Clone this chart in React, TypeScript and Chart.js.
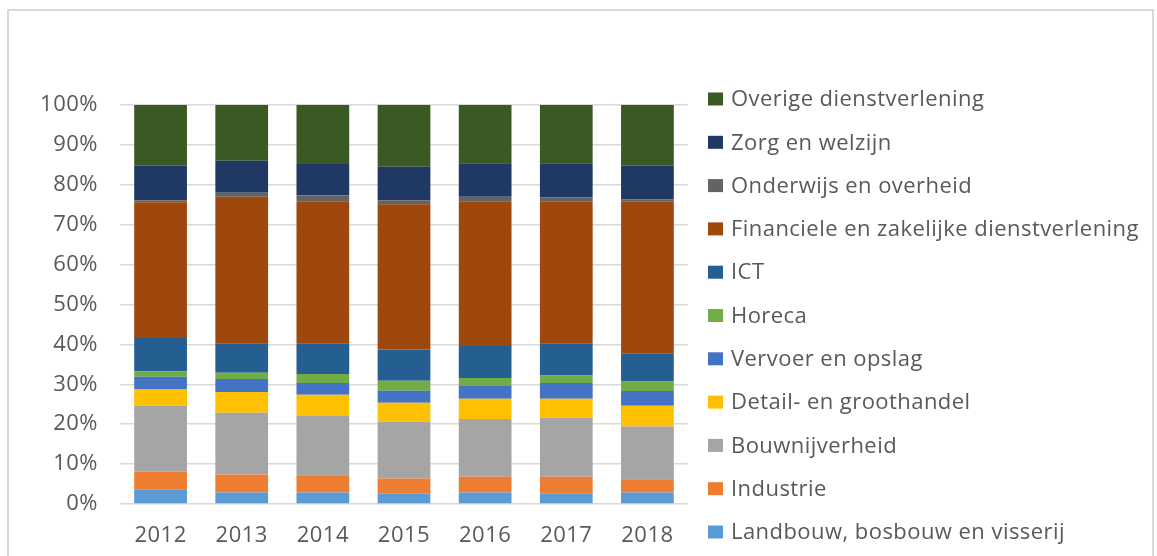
import React, { useEffect, useRef } from "react";
import { Chart, registerables } from "chart.js";

Chart.register(...registerables);

const years = ["2012", "2013", "2014", "2015", "2016", "2017", "2018"];

const landbouw = [3.6, 2.9, 2.9, 2.6, 2.9, 2.7, 2.9];
const industrie = [4.5, 4.5, 4.3, 3.8, 3.9, 4.1, 3.3];
const bouwnijverheid = [16.5, 15.5, 15.0, 14.2, 14.5, 14.8, 13.2];
const detailhandel = [4.1, 5.2, 5.2, 4.8, 5.1, 4.8, 5.2];
const vervoer = [3.2, 3.2, 2.9, 3.0, 3.2, 3.9, 3.7];
const horeca = [1.4, 1.6, 2.3, 2.5, 2.0, 1.9, 2.4];
const ict = [8.3, 7.4, 7.7, 7.8, 8.0, 8.1, 7.1];
const financiele = [34.0, 36.7, 35.6, 36.4, 36.3, 35.6, 38.1];
const onderwijs = [0.5, 1.0, 1.5, 1.0, 1.1, 1.0, 0.5];
const zorg = [8.7, 8.0, 7.8, 8.4, 8.4, 8.5, 8.4];
const overige = [15.2, 14.0, 14.8, 15.5, 14.6, 14.6, 15.2];

const yTicks = [0, 10, 20, 30, 40, 50, 60, 70, 80, 90, 100];

const series = [
  { label: "Landbouw, bosbouw en visserij", data: landbouw, color: "#5B9BD5" },
  { label: "Industrie", data: industrie, color: "#ED7D31" },
  { label: "Bouwnijverheid", data: bouwnijverheid, color: "#A5A5A5" },
  { label: "Detail- en groothandel", data: detailhandel, color: "#FFC000" },
  { label: "Vervoer en opslag", data: vervoer, color: "#4472C4" },
  { label: "Horeca", data: horeca, color: "#70AD47" },
  { label: "ICT", data: ict, color: "#255E91" },
  { label: "Financiele en zakelijke dienstverlening", data: financiele, color: "#9E480E" },
  { label: "Onderwijs en overheid", data: onderwijs, color: "#636363" },
  { label: "Zorg en welzijn", data: zorg, color: "#1F3864" },
  { label: "Overige dienstverlening", data: overige, color: "#3B5A23" },
];

const FONT = "'Open Sans'";
const TEXT = "#595959";

const spacingPlugin = {
  id: "letterSpacing",
  beforeDraw(chart: any) {
    chart.ctx.letterSpacing = "0.5px";
  },
};

const legendPlugin = {
  id: "customLegend",
  afterDraw(chart: any) {
    const ctx = chart.ctx;
    const ds = chart.data.datasets;
    ctx.save();
    ctx.letterSpacing = "0.45px";
    ctx.font = `22px ${FONT}`;
    ctx.textBaseline = "middle";
    ctx.textAlign = "left";
    const n = ds.length;
    for (let i = 0; i < n; i++) {
      const d = ds[n - 1 - i];
      const cy = 99 + i * 43.3;
      ctx.fillStyle = d.backgroundColor;
      ctx.fillRect(708, cy - 6.5, 15, 13);
      ctx.fillStyle = TEXT;
      ctx.fillText(d.label, 731, cy + 1);
    }
    ctx.restore();
  },
};

export default function App() {
  const ref = useRef<HTMLCanvasElement | null>(null);

  useEffect(() => {
    if (!ref.current) return;
    const chart = new Chart(ref.current, {
      type: "bar",
      data: {
        labels: years,
        datasets: series.map((s) => ({
          label: s.label,
          data: s.data,
          backgroundColor: s.color,
          borderWidth: 0,
          categoryPercentage: 1,
          barPercentage: 0.65,
        })),
      },
      options: {
        animation: false,
        responsive: false,
        maintainAspectRatio: false,
        layout: { padding: { left: 0, top: 105, right: 469, bottom: 0 } },
        plugins: {
          legend: { display: false },
          tooltip: { enabled: false },
          title: { display: false },
        },
        scales: {
          x: {
            stacked: true,
            grid: { display: false },
            border: { display: false },
            ticks: {
              color: TEXT,
              font: { family: FONT, size: 22 },
              padding: 11,
              maxRotation: 0,
            },
            afterFit: (s: any) => {
              s.height = 52;
            },
          },
          y: {
            stacked: true,
            min: 0,
            max: 100,
            afterBuildTicks: (s: any) => {
              s.ticks = yTicks.map((v) => ({ value: v }));
            },
            grid: { color: "#D9D9D9", lineWidth: 1.5, drawTicks: false },
            border: { display: false },
            ticks: {
              color: TEXT,
              font: { family: FONT, size: 22 },
              padding: 22,
              callback: (v: any) => `${v}%`,
            },
            afterFit: (s: any) => {
              s.width = 120;
            },
          },
        },
      },
      plugins: [spacingPlugin, legendPlugin],
    });
    return () => chart.destroy();
  }, []);

  return (
    <div style={{ position: "fixed", left: 0, top: 0, width: 1157, height: 556, background: "#fff" }}>
      <div
        style={{
          position: "absolute",
          left: 7,
          top: 9,
          width: 1147,
          height: 600,
          border: "2px solid #D9D9D9",
          borderBottom: "none",
          boxSizing: "border-box",
        }}
      />
      <canvas ref={ref} width={1157} height={556} style={{ position: "absolute", left: 0, top: 0 }} />
    </div>
  );
}
